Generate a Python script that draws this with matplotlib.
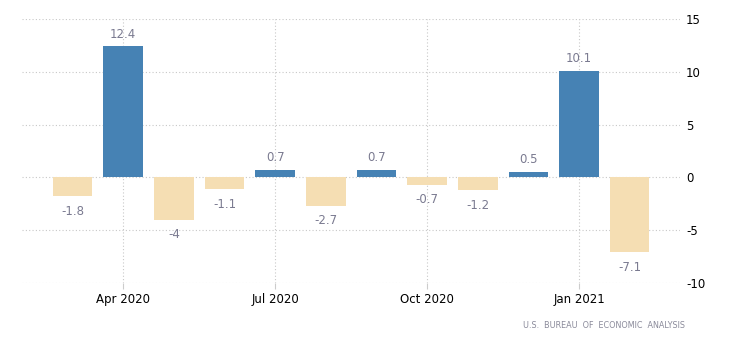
import matplotlib.pyplot as plt
import numpy as np

months = ['Mar 2020', 'Apr 2020', 'May 2020', 'Jun 2020', 'Jul 2020', 'Aug 2020',
          'Sep 2020', 'Oct 2020', 'Nov 2020', 'Dec 2020', 'Jan 2021', 'Feb 2021']
values = [-1.8, 12.4, -4, -1.1, 0.7, -2.7, 0.7, -0.7, -1.2, 0.5, 10.1, -7.1]
labels = ['-1.8', '12.4', '-4', '-1.1', '0.7', '-2.7', '0.7', '-0.7', '-1.2', '0.5', '10.1', '-7.1']
tick_idx = [1, 4, 7, 10]
tick_labels = ['Apr 2020', 'Jul 2020', 'Oct 2020', 'Jan 2021']
yticks = [-10, -5, 0, 5, 10, 15]

fig = plt.figure(figsize=(7.3, 3.46), dpi=100)
ax = fig.add_axes([0.030, 0.182, 0.902, 0.763])

x = np.arange(len(values))
colors = ['#4682B4' if v > 0 else '#F5DEB3' for v in values]
ax.bar(x, values, width=0.78, color=colors, zorder=2)

for xi, v, lab in zip(x, values, labels):
    off = 8.8 if v > 0 else -10.8
    ax.annotate(lab, (xi, v), xytext=(0, off), textcoords='offset points',
                ha='center', va='center', fontsize=8.5, color='#7a7a90', zorder=3)

ax.set_xlim(-1, 12)
ax.set_ylim(-10, 15)
ax.set_xticks(tick_idx)
ax.set_xticklabels(tick_labels, fontsize=8.5)
ax.set_yticks(yticks)
ax.set_yticklabels([str(t) for t in yticks], fontsize=8.5)
ax.yaxis.tick_right()
ax.tick_params(axis='y', length=0, pad=4)
ax.tick_params(axis='x', length=4, color='#cccccc', pad=3)
ax.grid(True, linestyle=(0, (1, 2)), color='#c8c8c8', linewidth=0.8, zorder=0)
for s in ax.spines.values():
    s.set_visible(False)

fig.text(0.938, 0.06, 'U.S.  BUREAU  OF  ECONOMIC  ANALYSIS',
         ha='right', va='center', fontsize=5.8, color='#8a8a9a')

fig.savefig('out.png', dpi=100)
